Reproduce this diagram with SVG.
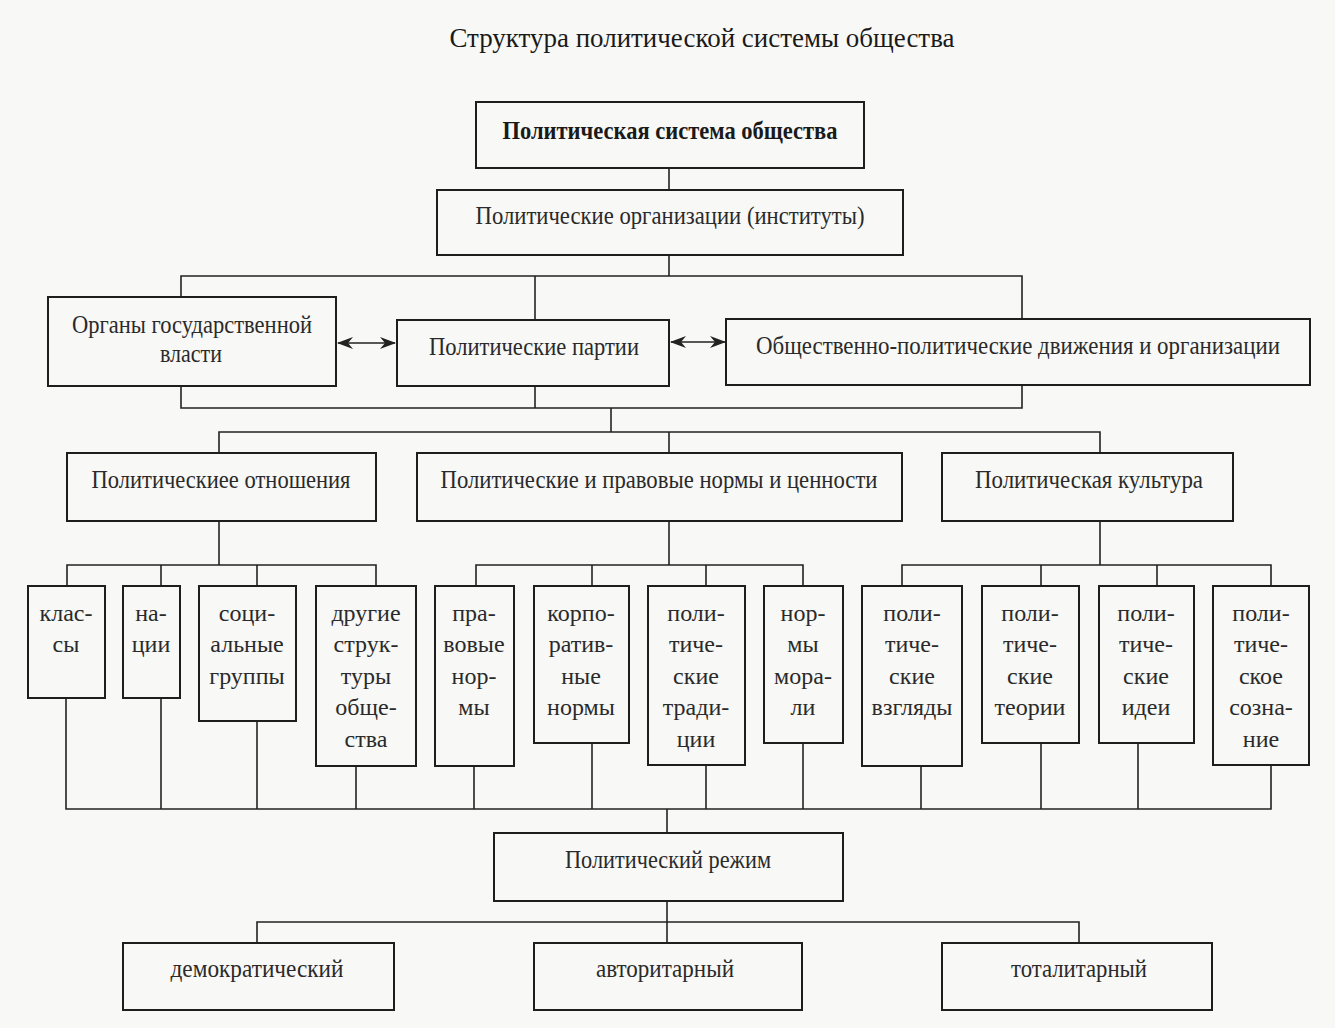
<svg xmlns="http://www.w3.org/2000/svg" width="1335" height="1028" viewBox="0 0 1335 1028">
<style>
  .bg { fill: #f8f8f6; }
  .box { fill: none; stroke: #1e1e1e; stroke-width: 2; }
  .lbl { font-family: "Liberation Serif", "Times New Roman", serif; font-size: 25px; fill: #2a2a2a; text-anchor: middle; }
  .sm { font-family: "Liberation Serif", "Times New Roman", serif; font-size: 24px; fill: #2a2a2a; text-anchor: middle; }
  .title { font-family: "Liberation Serif", "Times New Roman", serif; font-size: 27px; fill: #1a1a1a; text-anchor: middle; }
  .bold { font-weight: bold; fill: #1a1a1a; }
  .conn path, .conn line { fill: none; stroke: #222; stroke-width: 1.6; }
  .arr { stroke: #222; stroke-width: 1.6; fill: none; }
</style>
<defs>
  <marker id="ah" viewBox="0 0 16 12" refX="15" refY="6" markerWidth="16" markerHeight="12" markerUnits="userSpaceOnUse" orient="auto-start-reverse">
    <path d="M0,0 L16,6 L0,12 L5,6 Z" fill="#222"/>
  </marker>
</defs>
<rect class="bg" x="0" y="0" width="1335" height="1028"/>

<text class="title" x="702" y="47" textLength="505" lengthAdjust="spacingAndGlyphs">Структура политической системы общества</text>

<g class="conn" id="connectors">
  <path d="M669,168 V190"/>
  <path d="M669,255 V276"/>
  <path d="M181,297 V276 H1022 V319"/>
  <path d="M535,276 V320"/>
  <path d="M181,386 V408 H1022 V385"/>
  <path d="M535,386 V408"/>
  <path d="M611,408 V432"/>
  <path d="M219,453 V432 H1100 V453"/>
  <path d="M669,432 V453"/>
  <path d="M219,521 V565"/>
  <path d="M669,521 V565"/>
  <path d="M1100,521 V565"/>
  <path d="M67,586 V565 H376 V586"/>
  <path d="M161,565 V586"/>
  <path d="M257,565 V586"/>
  <path d="M476,586 V565 H803 V586"/>
  <path d="M592,565 V586"/>
  <path d="M706,565 V586"/>
  <path d="M902,586 V565 H1271 V586"/>
  <path d="M1041,565 V586"/>
  <path d="M1157,565 V586"/>
  <path d="M66,698 V809 H1271 V765"/>
  <path d="M161,698 V809"/>
  <path d="M257,721 V809"/>
  <path d="M356,766 V809"/>
  <path d="M474,766 V809"/>
  <path d="M592,743 V809"/>
  <path d="M706,765 V809"/>
  <path d="M803,743 V809"/>
  <path d="M921,766 V809"/>
  <path d="M1041,743 V809"/>
  <path d="M1138,743 V809"/>
  <path d="M667,809 V833"/>
  <path d="M667,901 V922"/>
  <path d="M257,943 V922 H1079 V943"/>
  <path d="M667,922 V943"/>
  <line class="arr" x1="338" y1="343" x2="395" y2="343" marker-start="url(#ah)" marker-end="url(#ah)"/>
  <line class="arr" x1="671" y1="342" x2="725" y2="342" marker-start="url(#ah)" marker-end="url(#ah)"/>
</g>

<g id="n-system">
  <rect class="box" x="476" y="102" width="388" height="66"/>
  <text class="lbl bold" x="670" y="139" textLength="335" lengthAdjust="spacingAndGlyphs">Политическая система общества</text>
</g>
<g id="n-org">
  <rect class="box" x="437" y="190" width="466" height="65"/>
  <text class="lbl" x="670" y="224" textLength="389" lengthAdjust="spacingAndGlyphs">Политические организации (институты)</text>
</g>
<g id="n-organy">
  <rect class="box" x="48" y="297" width="288" height="89"/>
  <text class="lbl" x="192" y="333" textLength="240" lengthAdjust="spacingAndGlyphs">Органы государственной</text>
  <text class="lbl" x="191" y="362" textLength="62" lengthAdjust="spacingAndGlyphs">власти</text>
</g>
<g id="n-partii">
  <rect class="box" x="397" y="320" width="272" height="66"/>
  <text class="lbl" x="534" y="355" textLength="210" lengthAdjust="spacingAndGlyphs">Политические партии</text>
</g>
<g id="n-opd">
  <rect class="box" x="726" y="319" width="584" height="66"/>
  <text class="lbl" x="1018" y="354" textLength="524" lengthAdjust="spacingAndGlyphs">Общественно-политические движения и организации</text>
</g>

<g id="n-otn">
  <rect class="box" x="67" y="453" width="309" height="68"/>
  <text class="lbl" x="221" y="488" textLength="259" lengthAdjust="spacingAndGlyphs">Политическиее отношения</text>
</g>
<g id="n-normy">
  <rect class="box" x="417" y="453" width="485" height="68"/>
  <text class="lbl" x="659" y="488" textLength="437" lengthAdjust="spacingAndGlyphs">Политические и правовые нормы и ценности</text>
</g>
<g id="n-kult">
  <rect class="box" x="942" y="453" width="291" height="68"/>
  <text class="lbl" x="1089" y="488" textLength="228" lengthAdjust="spacingAndGlyphs">Политическая культура</text>
</g>

<g id="n-klassy">
  <rect class="box" x="28" y="586" width="77" height="112"/>
  <text class="sm"><tspan x="66" y="621">клас-</tspan><tspan x="66" y="652">сы</tspan></text>
</g>
<g id="n-nacii">
  <rect class="box" x="123" y="586" width="57" height="112"/>
  <text class="sm"><tspan x="151" y="621">на-</tspan><tspan x="151" y="652">ции</tspan></text>
</g>
<g id="n-soc">
  <rect class="box" x="199" y="586" width="97" height="135"/>
  <text class="sm"><tspan x="247" y="621">соци-</tspan><tspan x="247" y="652">альные</tspan><tspan x="247" y="684">группы</tspan></text>
</g>
<g id="n-drugie">
  <rect class="box" x="316" y="586" width="100" height="180"/>
  <text class="sm"><tspan x="366" y="621">другие</tspan><tspan x="366" y="652">струк-</tspan><tspan x="366" y="684">туры</tspan><tspan x="366" y="715">обще-</tspan><tspan x="366" y="747">ства</tspan></text>
</g>
<g id="n-pravovye">
  <rect class="box" x="435" y="586" width="79" height="180"/>
  <text class="sm"><tspan x="474" y="621">пра-</tspan><tspan x="474" y="652">вовые</tspan><tspan x="474" y="684">нор-</tspan><tspan x="474" y="715">мы</tspan></text>
</g>
<g id="n-korp">
  <rect class="box" x="534" y="586" width="95" height="157"/>
  <text class="sm"><tspan x="581" y="621">корпо-</tspan><tspan x="581" y="652">ратив-</tspan><tspan x="581" y="684">ные</tspan><tspan x="581" y="715">нормы</tspan></text>
</g>
<g id="n-tradicii">
  <rect class="box" x="648" y="586" width="97" height="179"/>
  <text class="sm"><tspan x="696" y="621">поли-</tspan><tspan x="696" y="652">тиче-</tspan><tspan x="696" y="684">ские</tspan><tspan x="696" y="715">тради-</tspan><tspan x="696" y="747">ции</tspan></text>
</g>
<g id="n-morali">
  <rect class="box" x="764" y="586" width="79" height="157"/>
  <text class="sm"><tspan x="803" y="621">нор-</tspan><tspan x="803" y="652">мы</tspan><tspan x="803" y="684">мора-</tspan><tspan x="803" y="715">ли</tspan></text>
</g>
<g id="n-vzglyady">
  <rect class="box" x="862" y="586" width="100" height="180"/>
  <text class="sm"><tspan x="912" y="621">поли-</tspan><tspan x="912" y="652">тиче-</tspan><tspan x="912" y="684">ские</tspan><tspan x="912" y="715">взгляды</tspan></text>
</g>
<g id="n-teorii">
  <rect class="box" x="982" y="586" width="97" height="157"/>
  <text class="sm"><tspan x="1030" y="621">поли-</tspan><tspan x="1030" y="652">тиче-</tspan><tspan x="1030" y="684">ские</tspan><tspan x="1030" y="715">теории</tspan></text>
</g>
<g id="n-idei">
  <rect class="box" x="1099" y="586" width="95" height="157"/>
  <text class="sm"><tspan x="1146" y="621">поли-</tspan><tspan x="1146" y="652">тиче-</tspan><tspan x="1146" y="684">ские</tspan><tspan x="1146" y="715">идеи</tspan></text>
</g>
<g id="n-soznanie">
  <rect class="box" x="1213" y="586" width="96" height="179"/>
  <text class="sm"><tspan x="1261" y="621">поли-</tspan><tspan x="1261" y="652">тиче-</tspan><tspan x="1261" y="684">ское</tspan><tspan x="1261" y="715">созна-</tspan><tspan x="1261" y="747">ние</tspan></text>
</g>

<g id="n-rezhim">
  <rect class="box" x="494" y="833" width="349" height="68"/>
  <text class="lbl" x="668" y="868" textLength="206" lengthAdjust="spacingAndGlyphs">Политический режим</text>
</g>
<g id="n-demo">
  <rect class="box" x="123" y="943" width="271" height="67"/>
  <text class="lbl" x="257" y="977" textLength="173" lengthAdjust="spacingAndGlyphs">демократический</text>
</g>
<g id="n-avto">
  <rect class="box" x="534" y="943" width="268" height="67"/>
  <text class="lbl" x="665" y="977" textLength="138" lengthAdjust="spacingAndGlyphs">авторитарный</text>
</g>
<g id="n-tota">
  <rect class="box" x="942" y="943" width="270" height="67"/>
  <text class="lbl" x="1079" y="977" textLength="136" lengthAdjust="spacingAndGlyphs">тоталитарный</text>
</g>
</svg>
